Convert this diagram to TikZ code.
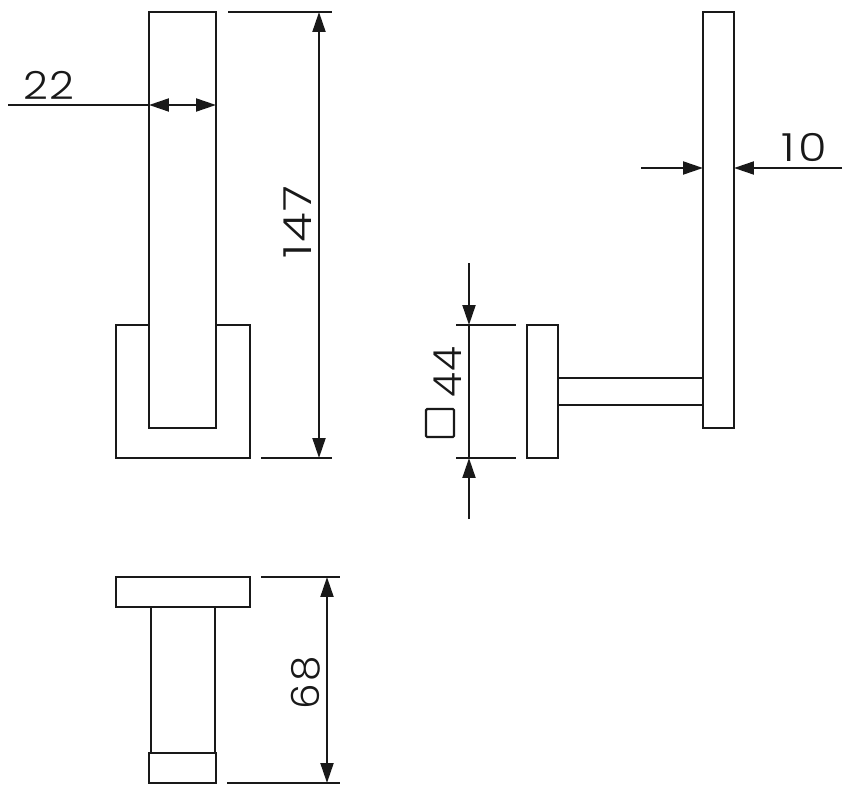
\documentclass[tikz,border=0pt]{standalone}
\usepackage{fontspec}
\setmainfont[UprightFont=* Light,LetterSpace=5]{Poppins}
\usetikzlibrary{arrows.meta}
\tikzset{
part/.style={line width=2pt,black!90},
dimline/.style={line width=1.9pt,black!90},
dimarrow/.style={dimline,-{Triangle[length=17pt,width=11pt]}},
dimlabel/.style={inner sep=0pt,text=black!90,font=\fontsize{33}{33}\selectfont}
}
\begin{document}
\begin{tikzpicture}[x=0.03cm,y=-0.03cm]
\useasboundingbox (0,0) rectangle (847,792);
% front view
\draw[part] (149,12) rectangle (216,428);
\draw[part] (149,325)--(116,325)--(116,458)--(250,458)--(250,325)--(216,325);
% side view
\draw[part] (703,12) rectangle (734,428);
\draw[part] (527,325) rectangle (558,458);
\foreach \y in {378,405}{
\draw[part] (558,\y)--(703,\y);
}
% top view
\draw[part] (116,577) rectangle (250,607);
\foreach \x in {151,215}{
\draw[part] (\x,607)--(\x,753);
}
\draw[part] (149,753) rectangle (216,783);
% extension lines
\draw[dimline] (228,12)--(332,12);
\draw[dimline] (261,458)--(332,458);
\foreach \y in {325,458}{
\draw[dimline] (456,\y)--(516,\y);
}
\draw[dimline] (261,577)--(340,577);
\draw[dimline] (227,783)--(340,783);
% 22
\draw[dimline] (8,105)--(149,105);
\draw[dimarrow] (182,105)--(149,105);
\draw[dimarrow] (182,105)--(216,105);
\node[dimlabel] (width) at (49,85) {\addfontfeature{FakeStretch=1.12}22};
% 147
\draw[dimarrow] (319,235)--(319,12);
\draw[dimarrow] (319,235)--(319,458);
\node[dimlabel,rotate=90] (height) at (298,222) {\addfontfeature{FakeStretch=1.25}147};
% 10
\draw[dimarrow] (641,168)--(703,168);
\draw[dimarrow] (842,168)--(734,168);
\node[dimlabel] (depth) at (804,147) {\addfontfeature{FakeStretch=1.2,LetterSpace=10}10};
% 44
\draw[dimarrow] (469,263)--(469,325);
\draw[dimarrow] (469,519)--(469,458);
\draw[dimline] (469,325)--(469,458);
\node[dimlabel,rotate=90] (plate) at (448,372) {\addfontfeature{FakeStretch=1.05}44};
\draw[dimline,rounded corners=1pt] (426,409) rectangle (454,437);
% 68
\draw[dimarrow] (327,680)--(327,577);
\draw[dimarrow] (327,680)--(327,783);
\node[dimlabel,rotate=90] (projection) at (306,683) {\addfontfeature{FakeStretch=1.05}68};
\end{tikzpicture}
\end{document}
